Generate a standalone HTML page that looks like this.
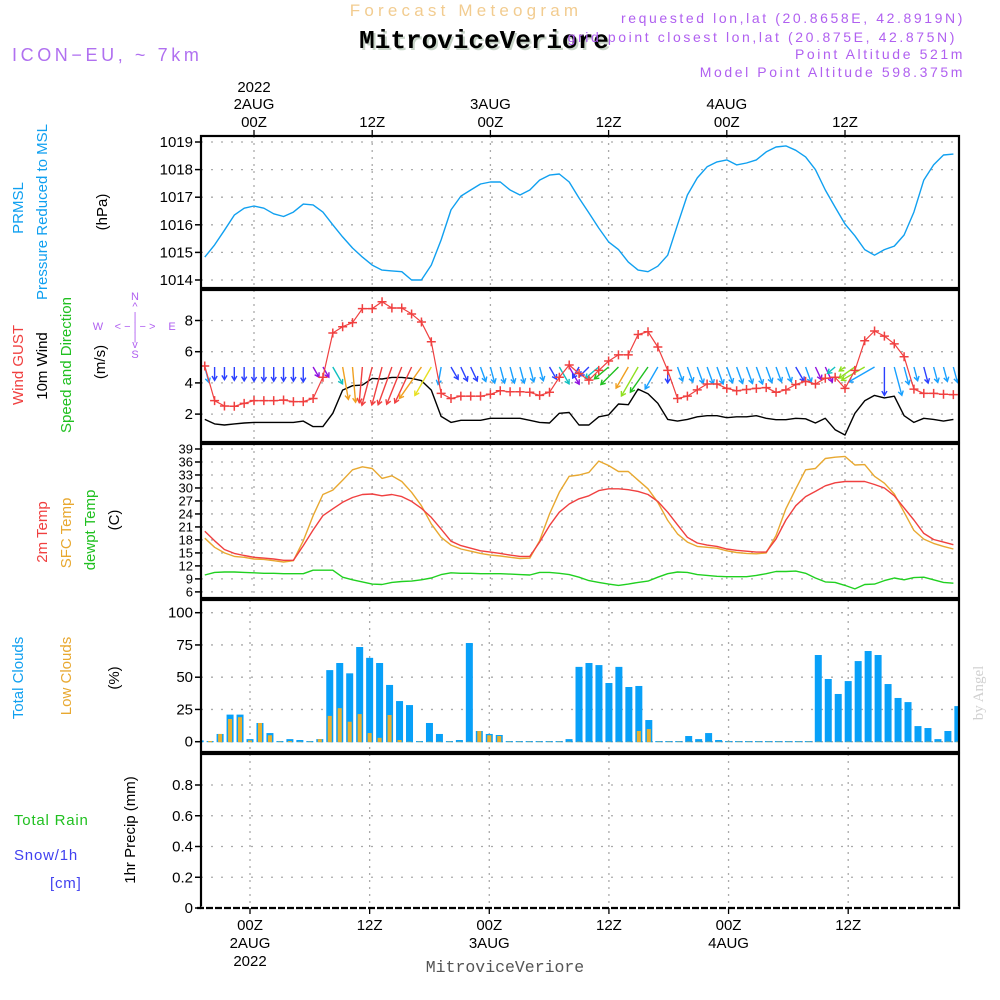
<!DOCTYPE html>
<html><head><meta charset="utf-8">
<style>
html,body{margin:0;padding:0;background:#fff;}
svg{display:block;font-family:"Liberation Sans",sans-serif;}
</style></head>
<body>
<svg id="chart" width="1000" height="1000" viewBox="0 0 1000 1000" xmlns="http://www.w3.org/2000/svg">
<g id="header">
<text x="466" y="16" font-size="17" fill="#f2cc90" text-anchor="middle" letter-spacing="4.2">Forecast Meteogram</text>
<text x="486" y="50" font-size="26" font-weight="bold" fill="#c8d4c8" text-anchor="middle" font-family="Liberation Mono, monospace">MitroviceVeriore</text>
<text x="484" y="48" font-size="26" font-weight="bold" fill="#000" text-anchor="middle" font-family="Liberation Mono, monospace">MitroviceVeriore</text>
<text x="12" y="61" font-size="18" fill="#b070f0" letter-spacing="3.6">ICON−EU, ~ 7km</text>
<g font-size="14" fill="#b060f0" text-anchor="end" letter-spacing="2.6">
<text x="965" y="23">requested lon,lat (20.8658E, 42.8919N)</text>
<text x="957" y="42">grid point closest lon,lat (20.875E, 42.875N)</text>
<text x="965" y="59">Point Altitude 521m</text>
<text x="965" y="77">Model Point Altitude 598.375m</text>
</g>
</g>
<g id="grid"></g>
<g id="marks"></g>
<g id="frames"></g>
<g id="labels" font-size="15"></g>
<g id="ylabels">
<g font-size="15">
<text transform="translate(23,208) rotate(-90)" text-anchor="middle" fill="#10a0f0">PRMSL</text>
<text transform="translate(47,212) rotate(-90)" text-anchor="middle" fill="#10a0f0">Pressure Reduced to MSL</text>
<text transform="translate(107,212) rotate(-90)" text-anchor="middle" fill="#000">(hPa)</text>
<text transform="translate(23,365) rotate(-90)" text-anchor="middle" fill="#f04040">Wind GUST</text>
<text transform="translate(47,366) rotate(-90)" text-anchor="middle" fill="#000">10m Wind</text>
<text transform="translate(71,365) rotate(-90)" text-anchor="middle" fill="#20c020">Speed and Direction</text>
<text transform="translate(105,362) rotate(-90)" text-anchor="middle" fill="#000">(m/s)</text>
<text transform="translate(47,532) rotate(-90)" text-anchor="middle" fill="#f04040">2m Temp</text>
<text transform="translate(71,533) rotate(-90)" text-anchor="middle" fill="#e8a830">SFC Temp</text>
<text transform="translate(95,530) rotate(-90)" text-anchor="middle" fill="#20c020">dewpt Temp</text>
<text transform="translate(119,520) rotate(-90)" text-anchor="middle" fill="#000">(C)</text>
<text transform="translate(23,678) rotate(-90)" text-anchor="middle" fill="#10a0f0">Total Clouds</text>
<text transform="translate(71,676) rotate(-90)" text-anchor="middle" fill="#e8a830">Low Clouds</text>
<text transform="translate(119,678) rotate(-90)" text-anchor="middle" fill="#000">(%)</text>
<text transform="translate(135,830) rotate(-90)" text-anchor="middle" fill="#000">1hr Precip (mm)</text>
<text x="14" y="825" fill="#20c020" letter-spacing="0.8">Total  Rain</text>
<text x="14" y="860" fill="#4040f0" letter-spacing="0.8">Snow/1h</text>
<text x="50" y="888" fill="#4040f0" letter-spacing="0.8">[cm]</text>
</g>
<g font-size="11" fill="#b060f0" text-anchor="middle">
<text x="135" y="300">N</text><text x="135" y="310">^</text><text x="135" y="320">|</text>
<text x="98" y="330">W</text><text x="135" y="330">&lt; − | − &gt;</text><text x="172" y="330">E</text>
<text x="135" y="340">|</text><text x="135" y="348">v</text><text x="135" y="358">S</text>
</g>
<text transform="translate(983,693) rotate(-90)" text-anchor="middle" font-size="15" fill="#d0d0d0" font-family="Liberation Serif, serif">by Angel</text>
<text x="505" y="972" text-anchor="middle" font-size="16.5" fill="#555" font-family="Liberation Mono, monospace">MitroviceVeriore</text>
</g>
</svg>
<script>
// ---- data: hourly, h = -5 .. 71 hours from 2022-08-02 00Z ----
const startHour = -5;
const timeTickHours = [0, 12, 24, 36, 48, 60];
const timeTickLabels = ["00Z", "12Z", "00Z", "12Z", "00Z", "12Z"];
const timeTickDays = ["2AUG", "", "3AUG", "", "4AUG", ""];
const timeTickYears = ["2022", "", "", "", "", ""];

const pressure = [1014.83,1015.27,1015.8,1016.35,1016.6,1016.68,1016.6,1016.4,1016.3,1016.46,
1016.75,1016.72,1016.46,1016.0,1015.56,1015.16,1014.83,1014.54,1014.36,1014.33,
1014.3,1014.0,1014.0,1014.54,1015.45,1016.54,1017.04,1017.26,1017.48,1017.55,
1017.55,1017.26,1017.08,1017.26,1017.62,1017.8,1017.84,1017.55,1016.97,1016.43,
1015.88,1015.38,1015.1,1014.65,1014.36,1014.3,1014.5,1014.9,1016.0,1017.08,
1017.7,1018.1,1018.28,1018.35,1018.17,1018.24,1018.35,1018.64,1018.82,1018.86,
1018.7,1018.46,1018.0,1017.26,1016.64,1016.03,1015.6,1015.1,1014.9,1015.1,
1015.23,1015.63,1016.46,1017.62,1018.17,1018.53,1018.56];
const pressureTicks = [1014,1015,1016,1017,1018,1019];

const gust = [5.08,2.86,2.52,2.5,2.69,2.86,2.86,2.86,2.9,2.8,
2.8,3.0,4.36,7.2,7.6,7.86,8.76,8.76,9.2,8.8,
8.8,8.42,7.9,6.64,3.33,3.0,3.15,3.15,3.15,3.27,
3.5,3.43,3.43,3.4,3.2,3.4,4.36,5.15,4.6,4.18,
4.8,5.4,5.8,5.8,7.1,7.28,6.3,4.8,3.0,3.15,
3.55,3.93,3.93,3.65,3.5,3.58,3.65,3.7,3.4,3.55,
3.9,4.1,3.93,4.3,4.36,3.65,4.8,6.7,7.33,7.0,
6.5,5.68,3.6,3.33,3.33,3.27,3.25];
const windSpeed = [1.66,1.37,1.3,1.37,1.43,1.47,1.47,1.47,1.47,1.47,
1.55,1.2,1.2,2.05,3.54,3.82,3.86,4.29,4.25,4.35,
4.35,4.29,4.15,3.54,1.85,1.47,1.6,1.6,1.6,1.73,
1.73,1.73,1.73,1.6,1.47,1.43,2.05,2.1,1.3,1.3,
1.83,1.95,2.65,2.6,3.6,3.3,2.7,1.66,1.55,1.66,
1.83,1.9,1.9,1.77,1.83,1.83,1.9,1.73,1.64,1.64,
1.73,1.7,1.43,1.73,1.0,0.66,2.05,2.85,3.2,3.04,
3.15,1.9,1.47,1.73,1.66,1.55,1.66];
const windDir = [345,0,0,0,0,0,0,0,0,0,
0,330,330,330,350,355,5,15,15,20,
22,25,35,30,10,330,335,335,340,345,
345,345,345,345,345,330,330,330,30,45,
50,50,45,30,30,35,30,0,340,340,
340,340,340,340,340,340,340,340,340,340,
330,340,335,335,50,55,55,60,60,0,
345,345,345,345,345,345,345];
const windClass = [2,1,1,1,1,1,1,1,1,1,
1,0,0,3,7,7,8,8,8,8,
8,8,7,6,2,1,1,1,2,2,
2,2,2,2,2,1,3,0,1,1,
3,4,4,7,5,4,2,1,2,2,
2,2,2,2,2,2,2,2,2,2,
1,2,0,0,3,5,5,5,2,1,
2,2,2,1,2,2,2];
const windTicks = [2,4,6,8];

const temp2m = [20.0,17.8,15.8,14.9,14.4,14.0,13.8,13.6,13.3,13.3,
16.7,20.3,23.6,25.2,26.7,27.8,28.5,28.6,28.2,28.5,
28.0,26.9,25.3,23.2,20.5,17.7,16.7,16.1,15.5,15.2,
14.9,14.5,14.2,14.2,17.5,21.3,24.4,26.3,27.5,28.2,
29.4,29.8,29.8,29.6,29.2,28.5,26.9,24.4,21.5,18.6,
17.3,16.8,16.5,15.9,15.6,15.4,15.2,15.2,18.2,22.6,
25.9,28.0,29.2,30.5,31.2,31.5,31.5,31.5,30.8,30.0,
28.2,25.4,22.6,19.5,18.1,17.5,16.9];
const tempSfc = [18.4,16.3,15.0,14.2,14.0,13.6,13.5,13.2,12.9,13.2,
17.8,23.6,28.5,29.5,31.8,34.2,34.9,34.5,32.2,32.8,
31.5,29.0,25.9,21.7,18.6,16.8,15.9,15.4,14.9,14.5,
14.3,14.0,13.7,13.8,17.8,24.0,29.0,32.7,33.0,33.6,
36.2,35.2,33.8,33.8,31.8,29.8,26.7,22.5,19.4,17.5,
16.5,16.3,16.1,15.5,15.1,14.9,14.8,15.0,19.0,25.2,
29.8,34.2,34.5,36.8,37.1,37.3,35.3,35.4,32.7,31.1,
28.6,24.4,20.2,18.2,17.2,16.5,15.9];
const dewpt = [9.9,10.5,10.6,10.6,10.5,10.4,10.3,10.3,10.2,10.2,
10.2,11.0,11.0,11.0,9.4,8.8,8.3,7.8,7.7,8.2,
8.4,8.5,8.8,9.2,10.0,10.4,10.3,10.3,10.2,10.2,
10.2,10.1,10.0,9.9,10.5,10.5,10.3,10.0,9.4,8.6,
8.2,7.8,7.5,7.8,8.2,8.5,9.4,10.2,10.6,10.5,
10.0,9.8,9.6,9.5,9.5,9.5,9.8,10.2,10.7,10.7,
10.8,10.3,9.2,8.3,8.2,7.5,6.7,7.7,7.8,8.6,
9.2,8.8,9.3,9.4,8.8,8.2,8.0];
const tempTicks = [6,9,12,15,18,21,24,27,30,33,36,39];

const totalClouds = [1,0.5,6,21,21,2,14.5,6.7,0.5,2,
1.3,0.5,2,55.5,61,53,73.4,65,61,44,
31.5,28.4,0.5,14.5,6,0.5,1.3,76.5,8.3,6,
5.2,0.5,0.5,0.5,0.5,0.5,0.5,2,58,61,
59.4,45.5,58,42.4,43.2,16.8,0.5,0.5,0.5,4.4,
2,6.7,1.3,0.5,0.5,0.5,0.5,0.5,0.5,0.5,
0.5,0.5,67.2,48.6,37,47,62.5,70.3,67.2,44.7,
33.9,30.7,12.1,10.6,2,8.3,27.6];
const lowClouds = [1,0.5,6,17.6,19,1,14.5,5,0,0.5,
0,0,2,20,26,15.5,21.4,6.7,3,20.7,
1.3,0,0,0,0,0,0,0,8.3,5,
4.4,0,0,0,0,0,0,0,0,0,
0,0,0,0,8.3,9.8,0,0,0,0,
0,0,0,0,0,0,0,0,0,0,
0,0,0,0,0,0,0,0,0,0,
0,0,0,0,0,0,0];
const cloudTicks = [0,25,50,75,100];
const precip = [];
const precipTicks = [0,0.2,0.4,0.6,0.8];

// ---- scales ----
const PX0 = 201, PX1 = 959;
function xTop(h){ return 254 + h*9.85; }
function xBot(h){ return 250 + h*9.97; }
function yP(p){ return 280 - (p-1014)*27.6; }
function yW(v){ return 445.3 - v*15.6; }
function yT(t){ return 449 + (39-t)*4.33; }
function yC(c){ return 741.7 - c*1.29; }
function yR(r){ return 908 - r*153.75; }

const NS = "http://www.w3.org/2000/svg";
function mk(tag, attrs, parent){
  const e = document.createElementNS(NS, tag);
  for (const k in attrs) e.setAttribute(k, attrs[k]);
  parent.appendChild(e); return e;
}
const grid = document.getElementById('grid');
const marks = document.getElementById('marks');
const frames = document.getElementById('frames');
const labels = document.getElementById('labels');

const panels = [
  {top:136,bot:288,ticks:pressureTicks,y:yP,fmt:v=>String(v),xf:xTop,name:'pressure'},
  {top:290,bot:442,ticks:windTicks,y:yW,fmt:v=>String(v),xf:xTop,name:'wind'},
  {top:444,bot:598,ticks:tempTicks,y:yT,fmt:v=>String(v),xf:xTop,name:'temp'},
  {top:600,bot:752,ticks:cloudTicks,y:yC,fmt:v=>String(v),xf:xBot,name:'clouds'},
  {top:754,bot:908,ticks:precipTicks,y:yR,fmt:v=>v===0?'0':v.toFixed(1),xf:xBot,name:'precip'}
];
panels.forEach(p=>{
  p.ticks.forEach(v=>{
    const y = p.y(v);
    const gl = mk('line',{x1:PX0,x2:PX1,y1:y,y2:y,stroke:'#aaa','stroke-width':1.3,'stroke-dasharray':'2,8'},grid);
    
    
    mk('line',{x1:PX0-6,x2:PX0,y1:y,y2:y,stroke:'#000','stroke-width':1.5},frames);
    const fs = p.name==='temp' ? 13 : 15;
    const t = mk('text',{x:PX0-8,y:y+(p.name==='temp'?4.5:5),'text-anchor':'end','font-size':fs,fill:'#000'},labels);
    t.textContent = p.fmt(v);
    
    
  });
  timeTickHours.forEach(h=>{
    const x = p.xf(h);
    const vl = mk('line',{x1:x,x2:x,y1:p.top,y2:p.bot,stroke:'#aaa','stroke-width':1.3,'stroke-dasharray':'2,5'},grid);
    
    
  });
  const r = mk('rect',{x:PX0,y:p.top,width:PX1-PX0,height:p.bot-p.top,fill:'none',stroke:'#000','stroke-width':2.2},frames);
  
  
});
mk('line',{x1:PX0,x2:PX1,y1:908,y2:908,stroke:'#fff','stroke-width':3},frames);
const bax = mk('line',{x1:PX0-4,x2:PX1+2,y1:908,y2:908,stroke:'#000','stroke-width':2.2,'stroke-dasharray':'7,2'},frames);



timeTickHours.forEach((h,i)=>{
  const xt = xTop(h), xb = xBot(h);
  mk('line',{x1:xt,x2:xt,y1:130,y2:136,stroke:'#000','stroke-width':1.3},frames);
  mk('line',{x1:xb,x2:xb,y1:908,y2:914,stroke:'#000','stroke-width':1.3},frames);
  const a = mk('text',{x:xt,y:127,'text-anchor':'middle'},labels);
  a.textContent = timeTickLabels[i];
  
  
  if (timeTickDays[i]) {
    const d = mk('text',{x:xt,y:109,'text-anchor':'middle'},labels);
    d.textContent = timeTickDays[i];
    
    
  }
  if (timeTickYears[i]) {
    const yv = mk('text',{x:xt,y:92,'text-anchor':'middle'},labels);
    yv.textContent = timeTickYears[i];
    
    
  }
  const b = mk('text',{x:xb,y:930,'text-anchor':'middle'},labels);
  b.textContent = timeTickLabels[i];
  
  
  if (timeTickDays[i]) {
    const d2 = mk('text',{x:xb,y:948,'text-anchor':'middle'},labels);
    d2.textContent = timeTickDays[i];
    
    
  }
  if (timeTickYears[i]) {
    const y2 = mk('text',{x:xb,y:966,'text-anchor':'middle'},labels);
    y2.textContent = timeTickYears[i];
    
    
  }
});

function linePath(arr, xf, yf){
  return arr.map((v,i)=>(i?'L':'M')+xf(startHour+i).toFixed(1)+','+yf(v).toFixed(1)).join(' ');
}
function addLine(arr, xf, yf, color, name, w){
  const p = mk('path',{d:linePath(arr,xf,yf),fill:'none',stroke:color,'stroke-width':w||1.4,'stroke-linejoin':'round'},marks);
  
  
}

addLine(pressure, xTop, yP, '#10a0f0', 'pressure-line');
addLine(windSpeed, xTop, yW, '#000', 'wind-speed-line');
const windColors = ['#9010e0','#2a40ff','#18a0ff','#10c0c0','#20c020','#90e020','#e8e020','#f0a020','#f04040'];
windDir.forEach((d,i)=>{
  const x = xTop(startHour+i), y = 367;
  const L = 9*windSpeed[i] + 1;
  const flow = (d+180)*Math.PI/180;
  const dx = L*Math.sin(flow), dy = -L*Math.cos(flow);
  const x2 = x+dx, y2 = y+dy;
  const ang = Math.atan2(dy,dx);
  const hl = 5;
  const c = windColors[windClass[i]];
  const g = mk('g',{stroke:c,'stroke-width':1.4,fill:'none'},marks);
  
  
  mk('line',{x1:x,y1:y,x2:x2,y2:y2},g);
  mk('path',{d:`M${x2+hl*Math.cos(ang+2.6)},${y2+hl*Math.sin(ang+2.6)} L${x2},${y2} L${x2+hl*Math.cos(ang-2.6)},${y2+hl*Math.sin(ang-2.6)}`},g);
});
addLine(gust, xTop, yW, '#f04040', 'gust-line', 1.2);
gust.forEach((v,i)=>{
  const x = xTop(startHour+i), y = yW(v);
  const m = mk('path',{d:`M${x-4.5},${y} H${x+4.5} M${x},${y-4.5} V${y+4.5}`,stroke:'#f04040','stroke-width':1.5},marks);
  
  
});

addLine(tempSfc, xTop, yT, '#e8a830', 'sfc-temp-line');
addLine(temp2m, xTop, yT, '#f04040', 't2m-line');
addLine(dewpt, xTop, yT, '#20d020', 'dewpt-line');

totalClouds.forEach((v,i)=>{
  const x = xBot(startHour+i);
  const x0 = Math.max(PX0, x-3.5), x1 = Math.min(PX1, x+3.5);
  if (x1<=x0) return;
  const r = mk('rect',{x:x0,y:yC(v),width:x1-x0,height:yC(0)-yC(v)+0.5,fill:'#08a0f8'},marks);
  
  
});
lowClouds.forEach((v,i)=>{
  const x = xBot(startHour+i);
  if (x < PX0 || x > PX1) return;
  const r = mk('rect',{x:x-2,y:yC(v),width:4,height:yC(0)-yC(v)+0.5,fill:'#e8b030'},marks);
  
  
});
precip.forEach((v,i)=>{
  const x = xBot(startHour+i);
  const r = mk('rect',{x:x-3.5,y:yR(v),width:7,height:yR(0)-yR(v),fill:'#20c020'},marks);
  
  
});
</script>
</body></html>
